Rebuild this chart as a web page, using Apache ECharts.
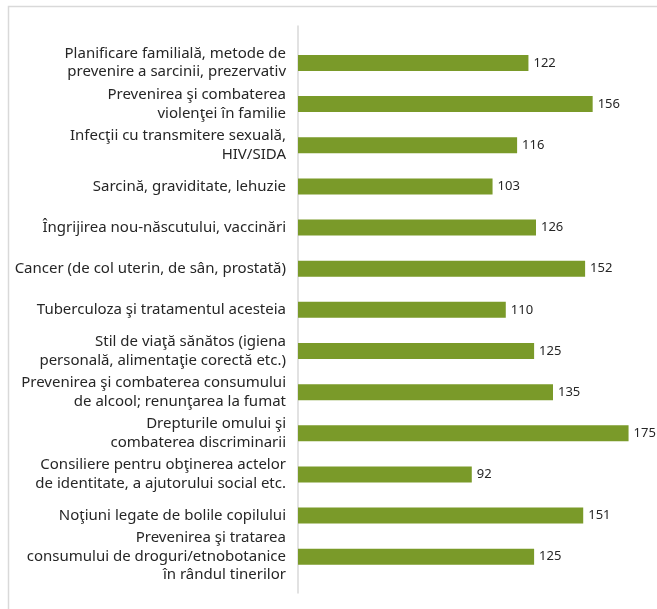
<!DOCTYPE html>
<html>
<head>
<meta charset="utf-8">
<script src="https://cdn.jsdelivr.net/npm/echarts@6/dist/echarts.min.js"></script>
<style>
html,body{margin:0;padding:0;background:#fff;}
#c{width:657px;height:609px;}
</style>
</head>
<body>
<div id="c"></div>
<script>
const categories = [
  "Planificare familială, metode de\nprevenire a sarcinii, prezervativ",
  "Prevenirea şi combaterea\nviolenţei în familie",
  "Infecţii cu transmitere sexuală,\nHIV/SIDA",
  "Sarcină, graviditate, lehuzie",
  "Îngrijirea nou-născutului, vaccinări",
  "Cancer (de col uterin, de sân, prostată)",
  "Tuberculoza şi tratamentul acesteia",
  "Stil de viaţă sănătos (igiena\npersonală, alimentaţie corectă etc.)",
  "Prevenirea şi combaterea consumului\nde alcool; renunţarea la fumat",
  "Drepturile omului şi\ncombaterea discriminarii",
  "Consiliere pentru obţinerea actelor\nde identitate, a ajutorului social etc.",
  "Noţiuni legate de bolile copilului",
  "Prevenirea şi tratarea\nconsumului de droguri/etnobotanice\nîn rândul tinerilor"
];
const values = [122, 156, 116, 103, 126, 152, 110, 125, 135, 175, 92, 151, 125];

const FONT = '"Noto Sans", "Open Sans", sans-serif';
const chart = echarts.init(document.getElementById('c'), null, {renderer: 'canvas'});
chart.setOption({
  animation: false,
  backgroundColor: '#fff',
  graphic: [{
    type: 'rect',
    shape: {x: 8.5, y: 6.5, width: 700, height: 700},
    style: {fill: 'none', stroke: '#d9d9d9', lineWidth: 1.5},
    z: -1
  }],
  grid: [
    {left: 298, right: 19, top: 42.4, bottom: 31.7, containLabel: false},
    {left: 298, right: 19, top: 26, bottom: 16, containLabel: false}
  ],
  xAxis: [
    {type: 'value', gridIndex: 0, min: 0, max: 180, show: false},
    {type: 'value', gridIndex: 1, min: 0, max: 1, show: false}
  ],
  yAxis: [
    {
      type: 'category', gridIndex: 0, data: categories, inverse: true,
      axisLine: {show: false}, axisTick: {show: false},
      axisLabel: {
        margin: 12, fontSize: 15, lineHeight: 18.5, color: '#262626',
        fontFamily: FONT, align: 'right'
      }
    },
    {
      type: 'value', gridIndex: 1, min: 0, max: 1,
      axisLine: {show: true, lineStyle: {color: '#d9d9d9', width: 1.5}},
      axisTick: {show: false}, axisLabel: {show: false}, splitLine: {show: false}
    }
  ],
  series: [{
    type: 'bar',
    xAxisIndex: 0, yAxisIndex: 0,
    data: values,
    barWidth: 16,
    itemStyle: {color: '#7a9a29'},
    label: {
      show: true, position: 'right', distance: 5,
      fontSize: 13, color: '#262626', fontFamily: FONT
    }
  }]
});
</script>
</body>
</html>
